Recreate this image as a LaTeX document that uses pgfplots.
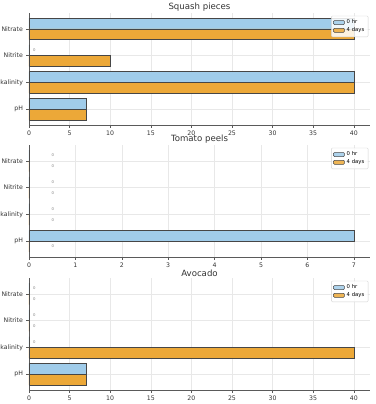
\documentclass[border=0pt]{standalone}
\usepackage{pgfplots}
\pgfplotsset{compat=1.18}
\usepackage{fontspec}
\setmainfont{DejaVu Sans}
\definecolor{cblue}{RGB}{160,204,234}
\definecolor{corange}{RGB}{236,168,56}
\definecolor{edge}{RGB}{70,70,70}
\definecolor{spine}{RGB}{90,90,90}
\pgfplotsset{
  every axis title shift=0pt,
  myaxis/.style={
    scale only axis, width=341pt, height=112pt,
    xbar, bar width=0.4,
    ymin=-0.59, ymax=3.59, xmin=0,
    ytick={0,1,2,3}, yticklabels={pH,Alkalinity,Nitrite,Nitrate},
    axis lines*=left,
    axis line style={spine, line width=0.7pt},
    tick align=outside, major tick length=2.5pt,
    tick style={spine, line width=0.5pt},
    xtick pos=bottom, ytick pos=left,
    grid=major, major grid style={gray!18, line width=0.4pt},
    tick label style={font=\fontsize{6.2}{7}\selectfont, text=black!80},
    /pgf/number format/assume math mode=true,
    title style={at={(0.5,1)}, anchor=south, yshift=0pt, inner sep=1.5pt, font=\fontsize{8.6}{10}\selectfont, text=black!80},
    anchor=north west,
    legend cell align=left,
    legend style={at={(0.995,0.975)}, anchor=north east, font=\fontsize{5.3}{6}\selectfont,
      draw=gray!35, fill=white, fill opacity=0.85, text opacity=1, rounded corners=1pt,
      row sep=-1.8pt, inner sep=1.8pt},
    legend image code/.code={\draw[#1, line width=0.5pt] (0pt,-2pt) rectangle (11pt,2pt);},
  },
  hrs/.style={fill=cblue, draw=edge, line width=0.5pt, bar shift=0.2},
  days/.style={fill=corange, draw=edge, line width=0.5pt, bar shift=-0.2},
  zlab/.style={draw=none, fill=none, forget plot, nodes near coords={0},
    every node near coord/.append style={font=\fontsize{3.8}{4}\selectfont, text=gray, anchor=west, inner sep=0pt, xshift=#1}},
}
\begin{document}
\begin{tikzpicture}
\useasboundingbox (-29pt,0pt) rectangle (346pt,-404pt);
% Squash pieces
\begin{axis}[myaxis, at={(0pt,-13pt)}, xmax=42, xtick={0,5,...,40}, title={Squash pieces}]
\addplot[hrs] coordinates {(7,0) (40,1) (0,2) (40,3)};
\addlegendentry{0 hr}
\addplot[days] coordinates {(7,0) (40,1) (10,2) (40,3)};
\addlegendentry{4 days}
\addplot[hrs, zlab=4pt] coordinates {(0,2)};
\end{axis}
% Tomato peels
\begin{axis}[myaxis, at={(0pt,-145pt)}, xmax=7.35, xtick={0,1,...,7}, title={Tomato peels}]
\addplot[hrs] coordinates {(7,0) (0,1) (0,2) (0,3)};
\addlegendentry{0 hr}
\addplot[days] coordinates {(0,0) (0,1) (0,2) (0,3)};
\addlegendentry{4 days}
\addplot[hrs, zlab=22.5pt] coordinates {(0,1) (0,2) (0,3)};
\addplot[days, zlab=22.5pt] coordinates {(0,0) (0,1) (0,2) (0,3)};
\end{axis}
% Avocado
\begin{axis}[myaxis, at={(0pt,-278pt)}, xmax=42, xtick={0,5,...,40}, title={Avocado}]
\addplot[hrs] coordinates {(7,0) (0,1) (0,2) (0,3)};
\addlegendentry{0 hr}
\addplot[days] coordinates {(7,0) (40,1) (0,2) (0,3)};
\addlegendentry{4 days}
\addplot[hrs, zlab=4pt] coordinates {(0,1) (0,2) (0,3)};
\addplot[days, zlab=4pt] coordinates {(0,2) (0,3)};
\end{axis}
\end{tikzpicture}
\end{document}
